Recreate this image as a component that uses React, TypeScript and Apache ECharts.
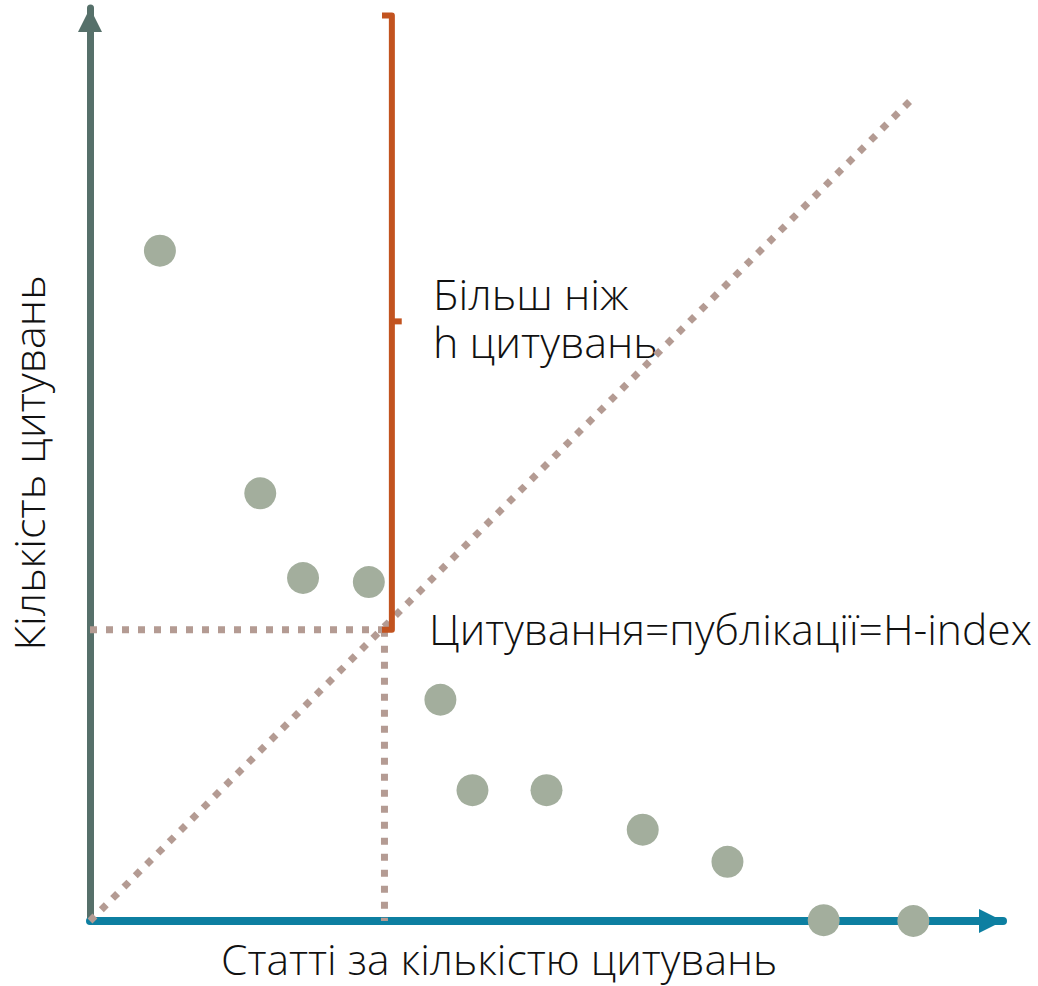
import React, { useEffect, useRef } from "react";
import * as echarts from "echarts";

// Publications sorted by citations (x = rank position, y = citations), in axis units
const pubX = [8.5, 20.7, 25.9, 33.9, 42.6, 46.5, 55.5, 67.2, 77.5, 89.2, 100.1];
const pubY = [81.5, 52.0, 41.7, 41.2, 26.9, 15.9, 15.9, 11.1, 7.2, 0.1, 0];

const hX = 35.8;
const hY = 35.4;
const diagonal = [[0, 0], [100, 100]];
const bracketX = 36.7;
const bracketTop = 110.1;
const bracketHook = 35.5;
const bracketMid = 72.9;
const bracketMidEnd = 37.9;

const axisMax = 111;

const xTitle = "Статті за кількістю цитувань";
const yTitle = "Кількість цитувань";
const bracketLabel = ["Більш ніж", "h цитувань"];
const hLabel = "Цитування=публікації=H-index";

const FONT = "'Open Sans', 'Noto Sans', sans-serif";
const FS = 43;

export default function App() {
  const ref = useRef<HTMLDivElement>(null);
  useEffect(() => {
    document.body.style.margin = "0";
    const chart = echarts.init(ref.current!, null, { renderer: "svg" });
    const dotted = {
      color: "#b49b93",
      width: 7,
      type: [7, 9] as any,
      cap: "butt" as any,
    };
    const font = `300 ${FS}px ${FONT}`;
    chart.setOption({
      animation: false,
      backgroundColor: "#ffffff",
      grid: { left: 90, top: 921 - 913, width: 913, height: 913 },
      xAxis: {
        type: "value",
        min: 0,
        max: axisMax,
        splitLine: { show: false },
        axisTick: { show: false },
        axisLabel: { show: false },
        axisLine: {
          show: true,
          onZero: false,
          symbol: ["none", "triangle"],
          symbolSize: [24, 24],
          symbolOffset: [0, -12],
          lineStyle: { color: "#0d7fa1", width: 8 },
        },
      },
      yAxis: {
        type: "value",
        min: 0,
        max: axisMax,
        splitLine: { show: false },
        axisTick: { show: false },
        axisLabel: { show: false },
        axisLine: {
          show: true,
          onZero: false,
          symbol: ["none", "triangle"],
          symbolSize: [24, 24],
          symbolOffset: [0, -12],
          lineStyle: { color: "#56706a", width: 7 },
        },
      },
      series: [
        {
          type: "line",
          data: diagonal,
          symbol: "none",
          lineStyle: dotted,
          z: 3,
        },
        {
          type: "line",
          data: [
            [0, hY],
            [hX, hY],
          ],
          symbol: "none",
          lineStyle: dotted,
          z: 3,
        },
        {
          type: "line",
          data: [
            [hX, hY],
            [hX, 0],
          ],
          symbol: "none",
          lineStyle: dotted,
          z: 3,
        },
        {
          type: "line",
          data: [
            [bracketHook, bracketTop],
            [bracketX, bracketTop],
            [bracketX, hY],
            [bracketHook, hY],
          ],
          symbol: "none",
          lineStyle: { color: "#c2531f", width: 6, join: "round" },
          z: 4,
        },
        {
          type: "line",
          data: [
            [bracketX, bracketMid],
            [bracketMidEnd, bracketMid],
          ],
          symbol: "none",
          lineStyle: { color: "#c2531f", width: 6 },
          z: 4,
        },
        {
          type: "scatter",
          data: pubX.map((x, i) => [x, pubY[i]]),
          symbol: "circle",
          symbolSize: 32,
          itemStyle: { color: "#a3ae9d", opacity: 1 },
          z: 5,
        },
      ],
      graphic: [
        {
          type: "text",
          left: 433,
          top: 271,
          style: { text: bracketLabel[0], font, fill: "#111111", lineHeight: 44 },
        },
        {
          type: "text",
          left: 433,
          top: 319,
          style: { text: bracketLabel[1], font, fill: "#111111", lineHeight: 44 },
        },
        {
          type: "text",
          left: 429,
          top: 606,
          style: { text: hLabel, font: `300 42.6px ${FONT}`, fill: "#111111" },
        },
        {
          type: "text",
          left: 221,
          top: 936,
          style: { text: xTitle, font: `300 42.6px ${FONT}`, fill: "#111111" },
        },
        {
          type: "text",
          x: 7,
          y: 463,
          rotation: Math.PI / 2,
          style: {
            text: yTitle,
            font,
            fill: "#111111",
            align: "center",
            verticalAlign: "top",
          },
        },
      ],
    });
    return () => chart.dispose();
  }, []);
  return <div ref={ref} style={{ width: 1038, height: 986 }} />;
}
